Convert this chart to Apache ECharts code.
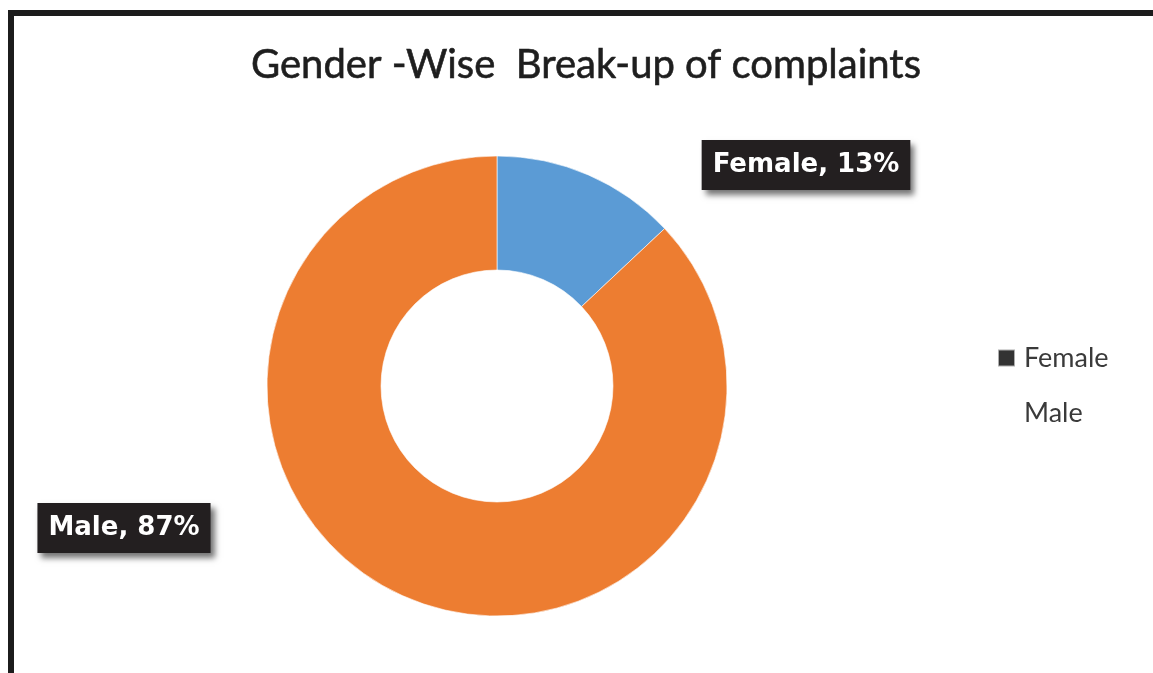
<!DOCTYPE html>
<html>
<head>
<meta charset="utf-8">
<script src="https://cdn.jsdelivr.net/npm/echarts@6/dist/echarts.min.js"></script>
<style>
  html, body { margin: 0; padding: 0; background: #fff; }
  #chart { width: 1153px; height: 673px; }
</style>
</head>
<body>
<div id="chart"></div>
<script>
const titleText = 'Gender -Wise  Break-up of complaints';
const categories = ['Female', 'Male'];
const values = [13, 87];
const sliceColors = ['#5B9BD5', '#ED7D31'];
const legendIconColors = ['#333333', 'transparent'];

const chart = echarts.init(document.getElementById('chart'), null, { renderer: 'canvas' });

const labelCenters = {
  Female: [806, 165],
  Male: [124, 528]
};

const option = {
  backgroundColor: '#ffffff',
  animation: false,
  title: {
    text: titleText,
    left: 251,
    top: 45,
    padding: 0,
    textStyle: {
      fontFamily: 'Lato',
      fontSize: 40,
      fontWeight: 'normal',
      color: '#1e1e1e',
      textBorderColor: '#1e1e1e',
      textBorderWidth: 0.6
    }
  },
  graphic: [{
    type: 'rect',
    shape: { x: 11, y: 13, width: 1200, height: 720 },
    style: { fill: 'none', stroke: '#1c1c1c', lineWidth: 6 },
    silent: true,
    z: 100
  }],
  legend: {
    orient: 'vertical',
    left: 997,
    top: 343,
    padding: 0,
    icon: 'rect',
    itemWidth: 17,
    itemHeight: 17,
    itemGap: 25,
    textStyle: {
      fontFamily: 'Lato',
      fontSize: 27,
      lineHeight: 30,
      color: '#3a3a3a',
      padding: [0, 0, 0, 4]
    },
    data: categories.map((c, i) => ({
      name: c,
      itemStyle: { color: legendIconColors[i] }
    }))
  },
  series: [{
    type: 'pie',
    center: [497, 386],
    radius: [116, 230],
    startAngle: 90,
    clockwise: true,
    avoidLabelOverlap: false,
    itemStyle: {
      borderColor: 'rgba(255,255,255,0.6)',
      borderWidth: 1
    },
    label: {
      show: true,
      position: 'outside',
      formatter: p => p.name + ', ' + p.value + '%',
      color: '#ffffff',
      fontFamily: 'DejaVu Sans',
      fontWeight: 'bold',
      fontSize: 26,
      lineHeight: 30,
      backgroundColor: '#231f20',
      padding: [10, 11],
      shadowColor: 'rgba(0,0,0,0.55)',
      shadowBlur: 6,
      shadowOffsetX: 4,
      shadowOffsetY: 5
    },
    labelLine: { show: false },
    labelLayout: function (params) {
      const name = categories[params.dataIndex];
      const c = labelCenters[name];
      return { x: c[0], y: c[1], align: 'center', verticalAlign: 'middle' };
    },
    data: categories.map((c, i) => ({
      name: c,
      value: values[i],
      itemStyle: { color: sliceColors[i] }
    }))
  }]
};

chart.setOption(option);
</script>
</body>
</html>
